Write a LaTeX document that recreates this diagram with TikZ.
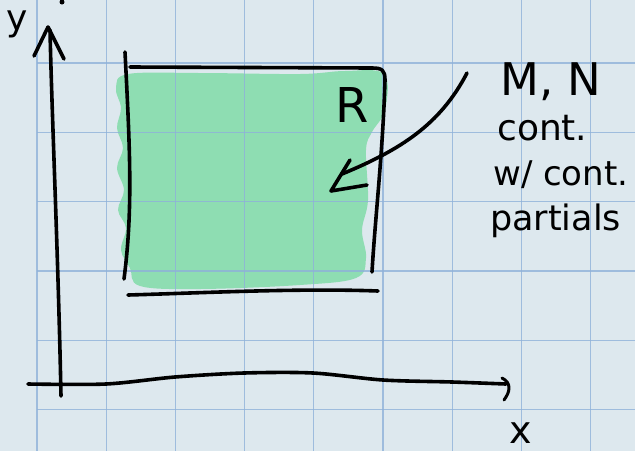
\documentclass[tikz,border=0pt]{standalone}
\usepackage{fontspec}
\newfontfamily\hand{DejaVu Sans}
\definecolor{paper}{HTML}{DDE8EE}
\definecolor{gridblue}{HTML}{8FB1D9}
\definecolor{mint}{HTML}{8EDDB2}
\begin{document}
\begin{tikzpicture}[x=1pt,y=-1pt,
  ink/.style={line width=3.6pt, line cap=round, line join=round, black},
  gridline/.style={gridblue, line width=1.3pt, opacity=0.8},
  lbl/.style={font=\hand\fontsize{34}{40}\selectfont, inner sep=0pt, anchor=base west}]
\useasboundingbox (0,0) rectangle (635,451);
\fill[paper] (0,0) rectangle (635,451);
% green region
\fill[mint] plot[smooth cycle, tension=0.6] coordinates {
  (128,74) (200,73) (300,74) (345,71) (384,74) (385,110) (372,132) (366,150)
  (368,200) (362,230) (366,258) (356,278) (300,285) (200,289) (140,286)
  (130,268) (121,250) (126,228) (118,210) (124,190) (117,168) (123,148)
  (117,128) (121,108) (116,88)};
% grid
\foreach \gx in {37,106.2,175.4,244.6,313.8,383,452.2,521.4,590.6}
  \draw[gridline] (\gx,0) -- (\gx,451);
\foreach \gy in {63,132.3,201.6,270.9,340.2,409.5}
  \draw[gridline] (37,\gy) -- (635,\gy);
% axes
\draw[ink] (61,396) .. controls (58,250) and (52,120) .. (50,30);
\draw[ink] (34,56) -- (48,27) -- (64,59);
\fill (62,2) circle (2.5);
\draw[ink] plot[smooth] coordinates {(28,384) (106,384) (175,377) (244,373) (313,373) (383,380) (452,382) (506,384)};
\draw[ink, line width=3pt] (502,378) .. controls (512,383) and (510,392) .. (504,400);
% region box
\draw[ink] (125,52) .. controls (130,150) and (133,210) .. (124,279);
\draw[ink] (130,67) -- (372,68) .. controls (382,68) and (385,70) .. (385,80) .. controls (383,150) and (375,220) .. (372,272);
\draw[ink] (128,295) .. controls (200,293) and (300,288) .. (378,291);
% pointer arrow
\draw[ink] (467,73) .. controls (440,125) and (400,150) .. (342,174);
\draw[ink] (350,160) -- (331,191) -- (367,185);
% labels
\node[font=\hand\fontsize{48}{52}\selectfont, inner sep=0pt] (R) at (352,105) {R};
\node[font=\hand\fontsize{36}{40}\selectfont, inner sep=0pt] (ylab) at (17,24) {y};
\node[font=\hand\fontsize{38}{42}\selectfont, inner sep=0pt] (xlab) at (521,433) {x};
\node[lbl, font=\hand\fontsize{45}{48}\selectfont] (mn) at (500,95) {M, N};
\node[lbl, font=\hand\fontsize{36}{40}\selectfont] (c1) at (497,140) {cont.};
\node[lbl] (c2) at (493,185) {w/ cont.};
\node[lbl, font=\hand\fontsize{35}{40}\selectfont] (c3) at (490,230) {partials};
\end{tikzpicture}
\end{document}
